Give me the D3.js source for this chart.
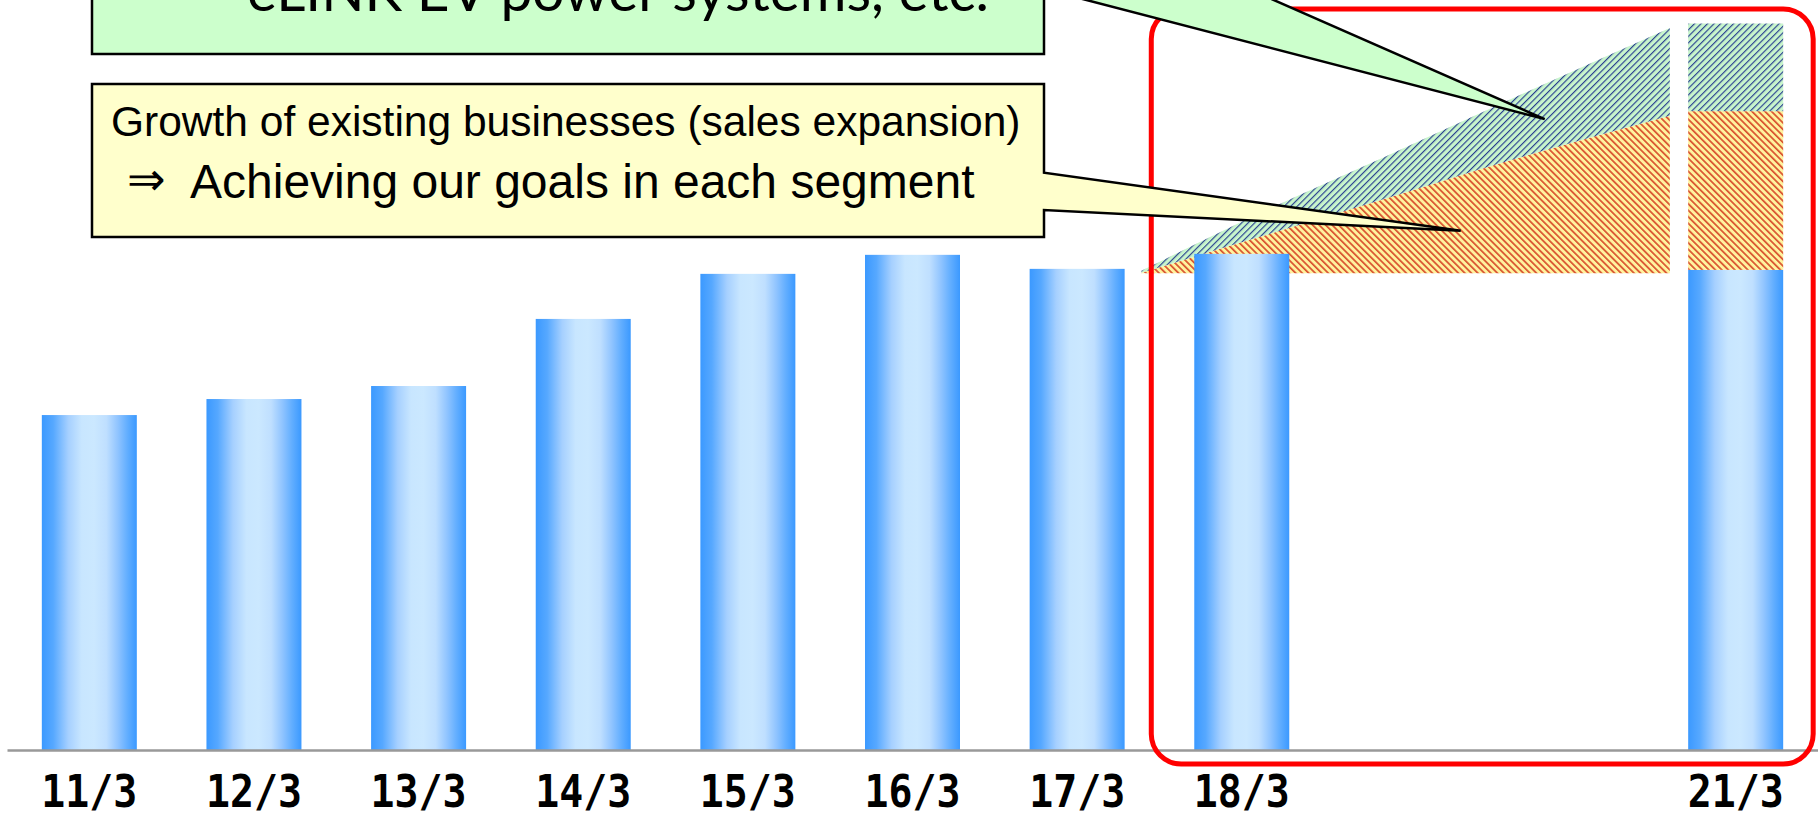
<!DOCTYPE html>
<html>
<head>
<meta charset="utf-8">
<script src="https://cdn.jsdelivr.net/npm/d3@7"></script>
<style>
  html, body { margin: 0; padding: 0; background: #fff; overflow: hidden; }
</style>
</head>
<body>
<svg id="chart"></svg>
<script>
const W = 1818, H = 816

// fiscal years ending March; 19/3 and 20/3 stay empty
const years = ['11/3', '12/3', '13/3', '14/3', '15/3', '16/3', '17/3', '18/3', '19/3', '20/3', '21/3']
const sales = [671, 703, 729, 863, 953, 991, 963, 993, null, null, 961]
const labelYears = ['11/3', '12/3', '13/3', '14/3', '15/3', '16/3', '17/3', '18/3', '21/3']

// 21/3 target stacked on the base bar
const targetGrowth = 317   // existing businesses
const targetNew = 175      // new businesses

// growth wedge from 18/3 towards 21/3 (fractional fiscal year)
const wedgeYear = [17.39, 18.05, 18.85, 19.58, 20.6]
const wedgeBase = 954
const wedgeGrowthTop = [955, 1021, 1101, 1175, 1269]
const wedgeNewTop = [959, 1065, 1184, 1294, 1444]

// where the callouts point (fiscal year, value)
const growthTip = [19.33, 1039]
const newTip = [19.84, 1262]

const svg = d3.select('#chart').attr('width', W).attr('height', H)
svg.append('rect').attr('width', W).attr('height', H).attr('fill', '#fff')

const x = d3.scaleBand().domain(years).range([7, 1818]).paddingInner(0.423).paddingOuter(0.2115)
const y = d3.scaleLinear().domain([0, 1500]).range([751, 0])
const half = x.bandwidth() / 2
const xYear = d3.scaleLinear().domain([11, 21]).range([x('11/3') + half, x('21/3') + half])

const defs = svg.append('defs')

const grad = defs.append('linearGradient').attr('id', 'barGrad')
  .attr('x1', 0).attr('x2', 1).attr('y1', 0).attr('y2', 0)
;[[0, '#3b99ff'], [0.12, '#56a8ff'], [0.28, '#a6d0ff'], [0.42, '#c8e6ff'], [0.55, '#cbe8ff'],
  [0.68, '#bfdfff'], [0.8, '#90c4ff'], [0.9, '#62aeff'], [1, '#3b99ff']]
  .forEach(([o, c]) => grad.append('stop').attr('offset', o).attr('stop-color', c))

function hatch(id, bg, fg, angle, sw) {
  const p = defs.append('pattern').attr('id', id)
    .attr('patternUnits', 'userSpaceOnUse')
    .attr('width', 4.6).attr('height', 4.6)
    .attr('patternTransform', `rotate(${angle})`)
  p.append('rect').attr('width', 4.6).attr('height', 4.6).attr('fill', bg)
  p.append('rect').attr('width', sw).attr('height', 4.6).attr('fill', fg)
}
hatch('hatchOrange', '#fff39e', '#d9502e', -45, 1.7)
hatch('hatchGreen', '#c8f5cc', '#2a4090', 45, 1.15)

// wedge
const wedge = wedgeYear.map((yr, i) => ({yr, g: wedgeGrowthTop[i], n: wedgeNewTop[i]}))
const growthArea = d3.area().curve(d3.curveMonotoneX)
  .x(d => xYear(d.yr)).y0(y(wedgeBase)).y1(d => y(d.g))
const newArea = d3.area().curve(d3.curveMonotoneX)
  .x(d => xYear(d.yr)).y0(d => y(d.g)).y1(d => y(d.n))
svg.append('path').attr('d', growthArea(wedge)).attr('fill', 'url(#hatchOrange)')
svg.append('path').attr('d', newArea(wedge)).attr('fill', 'url(#hatchGreen)')

// bars
const barData = years.map((k, i) => ({k, v: sales[i]})).filter(d => d.v != null)
svg.append('g').selectAll('rect')
  .data(barData)
  .join('rect')
  .attr('x', d => x(d.k))
  .attr('width', x.bandwidth())
  .attr('y', d => y(d.v))
  .attr('height', d => y(0) - y(d.v))
  .attr('fill', 'url(#barGrad)')

// 21/3 target stack
const base21 = sales[years.indexOf('21/3')]
svg.append('rect')
  .attr('x', x('21/3')).attr('width', x.bandwidth())
  .attr('y', y(base21 + targetGrowth)).attr('height', y(base21) - y(base21 + targetGrowth))
  .attr('fill', 'url(#hatchOrange)')
svg.append('rect')
  .attr('x', x('21/3')).attr('width', x.bandwidth())
  .attr('y', y(base21 + targetGrowth + targetNew)).attr('height', y(base21 + targetGrowth) - y(base21 + targetGrowth + targetNew))
  .attr('fill', 'url(#hatchGreen)')

// axis
const axis = svg.append('g').attr('transform', 'translate(0,750)')
  .call(d3.axisBottom(x).tickValues(labelYears).tickSize(0).tickSizeOuter(0))
axis.select('.domain').attr('stroke', '#999').attr('stroke-width', 2.4)
axis.selectAll('.tick text')
  .attr('y', 57).attr('dy', 0)
  .attr('fill', '#000')
  .style('font-family', '"DejaVu Sans Mono", monospace')
  .style('font-weight', 'bold')
  .style('font-size', '44px')
  .attr('textLength', 96).attr('lengthAdjust', 'spacingAndGlyphs')

// red frame round the plan period
const fx0 = x('18/3') - 43, fx1 = x('21/3') + x.bandwidth() + 30
svg.append('rect')
  .attr('x', fx0).attr('y', 9)
  .attr('width', fx1 - fx0).attr('height', 764 - 9)
  .attr('rx', 30).attr('ry', 30)
  .attr('fill', 'none').attr('stroke', '#ff0000').attr('stroke-width', 5)

// callouts
function callout(l, r, t, b, pt, pb, tip, fill) {
  const [tx, ty] = [xYear(tip[0]), y(tip[1])]
  const p = d3.path()
  p.moveTo(l, t); p.lineTo(r, t); p.lineTo(r, pt); p.lineTo(tx, ty)
  p.lineTo(r, pb); p.lineTo(r, b); p.lineTo(l, b); p.closePath()
  svg.append('path').attr('d', p.toString())
    .attr('fill', fill).attr('stroke', '#000').attr('stroke-width', 2.5)
    .attr('stroke-linejoin', 'miter')
}
callout(92, 1044, -200, 54, -101, -11, newTip, '#ccffcc')
callout(92, 1044, 84, 237, 172.7, 210, growthTip, '#ffffcc')

// last line of the upper callout, mostly above the top edge as in the slide
svg.append('text').attr('x', 247).attr('y', 11)
  .style('font-family', 'Lato, sans-serif').style('font-size', '56px')
  .attr('textLength', 742).attr('lengthAdjust', 'spacingAndGlyphs')
  .text('eLINK EV power systems, etc.')

svg.append('text').attr('x', 111).attr('y', 136)
  .style('font-family', '"Liberation Sans", Arial, sans-serif').style('font-size', '42.5px')
  .text('Growth of existing businesses (sales expansion)')
svg.append('text').attr('x', 127).attr('y', 195)
  .style('font-family', '"Liberation Sans", Arial, sans-serif').style('font-size', '46px')
  .text('⇒')
svg.append('text').attr('x', 190).attr('y', 198)
  .style('font-family', '"Liberation Sans", Arial, sans-serif').style('font-size', '48px')
  .text('Achieving our goals in each segment')
</script>
</body>
</html>
